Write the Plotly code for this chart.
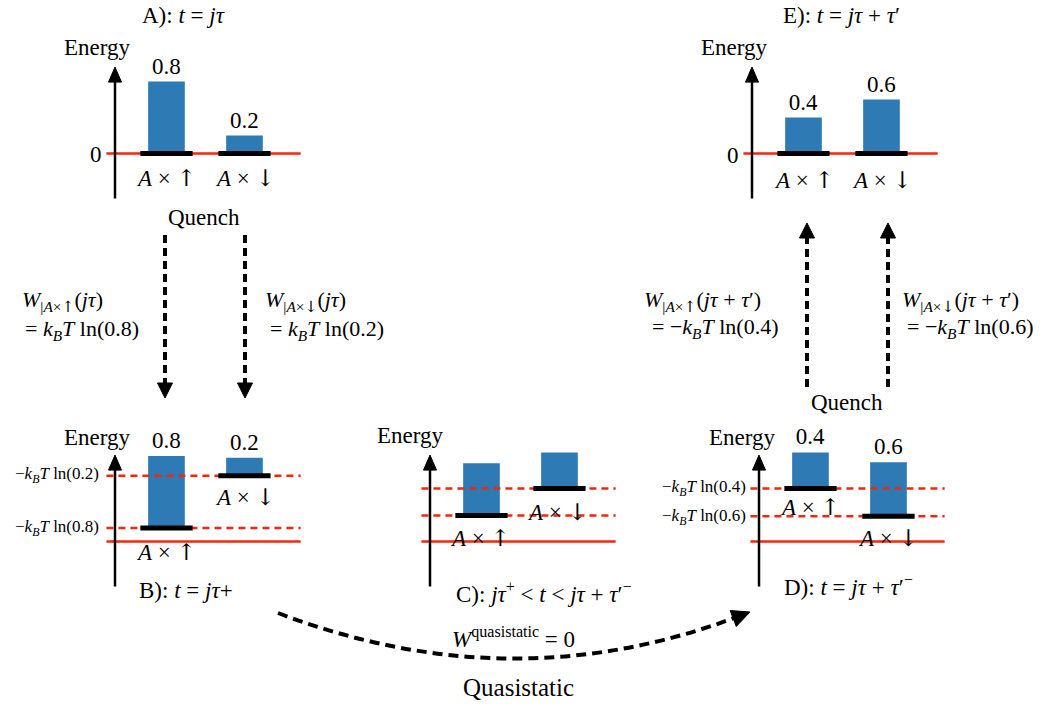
import plotly.graph_objects as go

# ---------------- data ----------------
UP = "<span style=\"font-family:DejaVu Serif\">↑</span>"
DN = "<span style=\"font-family:DejaVu Serif\">↓</span>"
state_x = [1, 2]
state_labels = ["<i>A</i> × " + UP, "<i>A</i> × " + DN]

pop_A = [0.8, 0.2]
pop_B = [0.8, 0.2]
pop_C = [0.58, 0.40]
pop_D = [0.4, 0.6]
pop_E = [0.4, 0.6]

lev_A = [0.0, 0.0]
lev_B = [0.15, 0.73]
lev_C = [0.29, 0.59]
lev_D = [0.59, 0.28]
lev_E = [0.0, 0.0]

dashed_B = [0.15, 0.73]
dashed_C = [0.29, 0.59]
dashed_D = [0.59, 0.28]

dash_labels_B = ["−<i>k</i><sub><i>B</i></sub><i>T</i> ln(0.8)", "−<i>k</i><sub><i>B</i></sub><i>T</i> ln(0.2)"]
dash_labels_D = ["−<i>k</i><sub><i>B</i></sub><i>T</i> ln(0.4)", "−<i>k</i><sub><i>B</i></sub><i>T</i> ln(0.6)"]

# ---------------- style / geometry ----------------
W, H = 1056, 705
FONT = "'Liberation Serif', 'Times New Roman', Times, serif"
BLUE = "#2e7ab4"
RED = "#f5260c"
FS = 23
XU, YU = 78.0, 90.0          # px per local unit
AX_X = 0.34                  # local x of the energy axis
XR = [-1.0, 3.2]
YR = [-0.8, 1.3]
RED_X = [0.23, 2.72]

panels = [
    dict(X0=115, Y0=153.5, pop=pop_A, lev=lev_A, dashed=[], values=True),
    dict(X0=115, Y0=541.5, pop=pop_B, lev=lev_B, dashed=dashed_B, values=True),
    dict(X0=430, Y0=541.5, pop=pop_C, lev=lev_C, dashed=dashed_C, values=False),
    dict(X0=759, Y0=541.5, pop=pop_D, lev=lev_D, dashed=dashed_D, values=True),
    dict(X0=752, Y0=153.5, pop=pop_E, lev=lev_E, dashed=[], values=True),
]

fig = go.Figure()
axes_layout = {}
shapes = []
annotations = []


def P(x, y):
    return x / W, 1 - y / H


def seg(x0, y0, x1, y1, width, color="black", dash=None):
    a, b = P(x0, y0)
    c, d = P(x1, y1)
    shapes.append(dict(type="line", xref="paper", yref="paper", x0=a, y0=b, x1=c, y1=d,
                       line=dict(color=color, width=width, dash=dash)))


def head(tx, ty, dx, dy, length, half, color="black"):
    n = (dx * dx + dy * dy) ** 0.5
    ux, uy = dx / n, dy / n
    bx, by = tx - ux * length, ty - uy * length
    nx, ny = -uy, ux
    pts = [(tx, ty), (bx + nx * half, by + ny * half), (bx - nx * half, by - ny * half)]
    path = "M " + " L ".join("%.5f,%.5f" % P(x, y) for x, y in pts) + " Z"
    shapes.append(dict(type="path", xref="paper", yref="paper", path=path,
                       fillcolor=color, line=dict(color=color, width=1)))


def text(s, x, y, size=FS, anchor="center"):
    a, b = P(x, y)
    annotations.append(dict(text=s, x=a, y=b, xref="paper", yref="paper", showarrow=False,
                            xanchor=anchor, yanchor="middle",
                            font=dict(family=FONT, size=size, color="black")))


for i, p in enumerate(panels, start=1):
    xa = "x" if i == 1 else "x%d" % i
    ya = "y" if i == 1 else "y%d" % i
    left = p["X0"] - (AX_X - XR[0]) * XU
    right = left + (XR[1] - XR[0]) * XU
    top = p["Y0"] - YR[1] * YU
    bottom = p["Y0"] - YR[0] * YU
    axes_layout["xaxis" if i == 1 else "xaxis%d" % i] = dict(
        domain=[left / W, right / W], range=XR, visible=False, anchor=ya, fixedrange=True)
    axes_layout["yaxis" if i == 1 else "yaxis%d" % i] = dict(
        domain=[1 - bottom / H, 1 - top / H], range=YR, visible=False, anchor=xa, fixedrange=True)

    # zero line (solid red)
    fig.add_trace(go.Scatter(x=RED_X, y=[0, 0], mode="lines", line=dict(color=RED, width=2.5),
                             xaxis=xa, yaxis=ya, hoverinfo="skip", showlegend=False))
    # dashed red lines at -kT ln p
    for lv in p["dashed"]:
        fig.add_trace(go.Scatter(x=RED_X, y=[lv, lv], mode="lines",
                                 line=dict(color=RED, width=2.5, dash="7px,5px"),
                                 xaxis=xa, yaxis=ya, hoverinfo="skip", showlegend=False))
    # population bars
    fig.add_trace(go.Bar(x=state_x, y=p["pop"], base=p["lev"], width=0.47,
                         marker=dict(color=BLUE, line=dict(width=0)),
                         text=["%.1f" % v for v in p["pop"]] if p["values"] else None,
                         textposition="outside", cliponaxis=False,
                         textfont=dict(family=FONT, size=FS, color="black"),
                         xaxis=xa, yaxis=ya, hoverinfo="skip", showlegend=False))
    # black energy levels
    lx, ly = [], []
    for sx, lv in zip(state_x, p["lev"]):
        lx += [sx - 0.335, sx + 0.335, None]
        ly += [lv, lv, None]
    fig.add_trace(go.Scatter(x=lx, y=ly, mode="lines", line=dict(color="black", width=5),
                             xaxis=xa, yaxis=ya, hoverinfo="skip", showlegend=False))
    # energy axis arrow
    seg(p["X0"], p["Y0"] + 0.5 * YU, p["X0"], p["Y0"] - 0.8 * YU, 2.5)
    head(p["X0"], p["Y0"] - 0.96 * YU, 0, -1, 15, 6.5)

# ---------------- texts ----------------
text("A): <i>t</i> = <i>jτ</i>", 183, 15)
text("E): <i>t</i> = <i>jτ</i> + <i>τ</i>′", 841, 15)
text("B): <i>t</i> = <i>jτ</i>+", 186, 590)
text("C): <i>jτ</i><sup>+</sup> &lt; <i>t</i> &lt; <i>jτ</i> + <i>τ</i>′<sup>−</sup>", 544, 592)
text("D): <i>t</i> = <i>jτ</i> + <i>τ</i>′<sup>−</sup>", 848, 585)

for (x, y) in [(97, 48), (734, 48), (97, 437), (410, 435), (742, 437)]:
    text("Energy", x, y)
text("0", 96, 154)
text("0", 733, 155)

state_label_pos = [
    [(166, 178), (245, 178)],   # A
    [(166, 552), (245, 497)],   # B
    [(480, 538), (557, 512)],   # C
    [(810, 507), (888, 538)],   # D
    [(804, 180), (882, 180)],   # E
]
for pos in state_label_pos:
    for lab, (x, y) in zip(state_labels, pos):
        text(lab, x, y)

text(dash_labels_B[1], 101, 475, size=17, anchor="right")
text(dash_labels_B[0], 101, 528, size=17, anchor="right")
text(dash_labels_D[0], 748, 488, size=17, anchor="right")
text(dash_labels_D[1], 748, 517, size=17, anchor="right")

text("Quench", 204, 217)
text("Quench", 847, 402)

text("<i>W</i><sub>|<i>A</i>×" + UP + "</sub>(<i>jτ</i>)", 20, 301, size=22, anchor="left")
text("= <i>k</i><sub><i>B</i></sub><i>T</i> ln(0.8)", 23, 330, size=22, anchor="left")
text("<i>W</i><sub>|<i>A</i>×" + DN + "</sub>(<i>jτ</i>)", 263, 301, size=22, anchor="left")
text("= <i>k</i><sub><i>B</i></sub><i>T</i> ln(0.2)", 268, 330, size=22, anchor="left")

text("<i>W</i><sub>|<i>A</i>×" + UP + "</sub>(<i>jτ</i> + <i>τ</i>′)", 642, 301, size=22, anchor="left")
text("= −<i>k</i><sub><i>B</i></sub><i>T</i> ln(0.4)", 650, 328, size=22, anchor="left")
text("<i>W</i><sub>|<i>A</i>×" + DN + "</sub>(<i>jτ</i> + <i>τ</i>′)", 900, 301, size=22, anchor="left")
text("= −<i>k</i><sub><i>B</i></sub><i>T</i> ln(0.6)", 905, 328, size=22, anchor="left")

text("<i>W</i><sup>quasistatic</sup> = 0", 513, 637)
text("Quasistatic", 518, 687, size=25)

# ---------------- dashed quench arrows ----------------
for x in (165, 245):
    seg(x, 235, x, 386, 4, dash="8px,5px")
    head(x, 398, 0, 1, 15, 7.5)
for x in (807, 888):
    seg(x, 387, x, 236, 4, dash="8px,5px")
    head(x, 223, 0, -1, 15, 7.5)

# ---------------- quasistatic curved arrow ----------------
x0, y0 = 278, 613
cx, cy = 514, 703
x1, y1 = 750, 612
path = "M %.5f,%.5f Q %.5f,%.5f %.5f,%.5f" % (P(x0, y0) + P(cx, cy) + P(x1 - 8, y1 + 3))
shapes.append(dict(type="path", xref="paper", yref="paper", path=path,
                   line=dict(color="black", width=4, dash="10px,6px")))
head(x1, y1, x1 - cx, y1 - cy, 18, 8.5)

fig.update_layout(
    width=W, height=H,
    margin=dict(l=0, r=0, t=0, b=0),
    paper_bgcolor="white", plot_bgcolor="rgba(0,0,0,0)",
    showlegend=False,
    shapes=shapes, annotations=annotations,
    font=dict(family=FONT, color="black"),
    **axes_layout,
)

fig.write_html("out.html", config={"displayModeBar": False},
               post_script="document.body.style.margin='0px';document.body.style.overflow='hidden';")
